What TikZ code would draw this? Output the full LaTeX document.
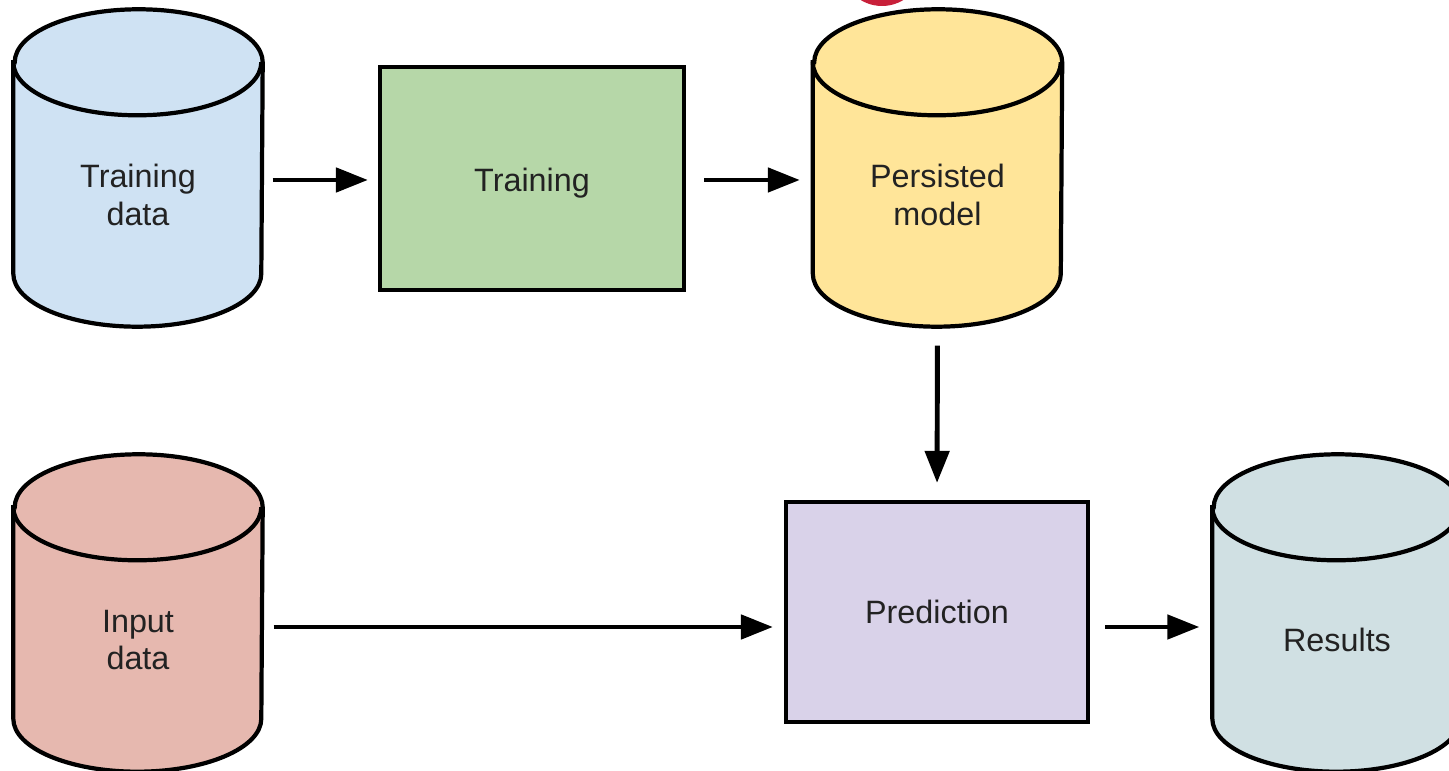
\documentclass[tikz,border=0pt]{standalone}
\usepackage{fontspec}
\setmainfont{Liberation Sans}
\usetikzlibrary{arrows.meta,calc}
\definecolor{storeblue}{HTML}{CFE2F3}
\definecolor{storeyellow}{HTML}{FFE599}
\definecolor{storered}{HTML}{E6B8AF}
\definecolor{storeteal}{HTML}{D0E0E3}
\definecolor{stepgreen}{HTML}{B6D7A8}
\definecolor{steppurple}{HTML}{D9D2E9}
\definecolor{badgered}{HTML}{C8203A}
\definecolor{textgray}{HTML}{222222}

\tikzset{
  labeltext/.style={font=\fontsize{9.2}{10.6}\selectfont,text=textgray,align=center},
  store/.style={minimum width=2.48cm,minimum height=3.16cm,inner sep=0pt},
  stepbox/.style={draw,line width=1.2pt,labeltext},
  flow/.style={line width=1.4pt,-{Triangle[length=3.2mm,width=2.4mm]}}
}
% cylinder outline round a store node
\newcommand{\drawstore}[2]{%
  \draw[line width=1.2pt,fill=#2]
    ([yshift=-5.3mm]#1.north west) -- ([yshift=5.3mm]#1.south west)
    arc[start angle=180,end angle=360,x radius=12.4mm,y radius=5.3mm]
    -- ([yshift=-5.3mm]#1.north east)
    arc[start angle=0,end angle=180,x radius=12.4mm,y radius=5.3mm] -- cycle;
  \draw[line width=1.2pt] ([yshift=-5.3mm]#1.north west)
    arc[start angle=180,end angle=360,x radius=12.4mm,y radius=5.3mm];
}

\begin{document}
\begin{tikzpicture}
\useasboundingbox (0,0) rectangle (14.49,7.71);
\clip (0,0) rectangle (14.49,7.71);
% badge cut off at the top
\fill[badgered] (8.82,8.06) circle (0.41);
% stores
\node[store] (tdata) at (1.38,6.03) {};
\node[store] (model) at (9.375,6.03) {};
\node[store] (idata) at (1.38,1.58) {};
\node[store] (results) at (13.37,1.58) {};
\drawstore{tdata}{storeblue}
\drawstore{model}{storeyellow}
\drawstore{idata}{storered}
\drawstore{results}{storeteal}
\node[labeltext] at ([yshift=-2.7mm]tdata.center) {Training\\data};
\node[labeltext] at ([yshift=-2.7mm]model.center) {Persisted\\model};
\node[labeltext] at ([yshift=-2.7mm]idata.center) {Input\\data};
\node[labeltext] at ([yshift=-2.7mm]results.center) {Results};
% steps
\node[stepbox,fill=stepgreen,minimum width=3.04cm,minimum height=2.23cm] (train) at (5.32,5.925) {\raisebox{-0.5mm}[\height][\depth]{Training}};
\node[stepbox,fill=steppurple,minimum width=3.02cm,minimum height=2.2cm] (predict) at (9.37,1.59) {Prediction};
% arrows
\draw[flow,shorten <=1mm,shorten >=1mm] ([yshift=-0.15mm]train.west -| tdata.east) -- ([yshift=-0.15mm]train.west);
\draw[flow,shorten <=1.8mm,shorten >=1.3mm] ([yshift=-0.15mm]train.east) -- ([yshift=-0.15mm]train.east -| model.west);
\draw[flow,shorten <=1.9mm,shorten >=1.7mm] (model.south) -- (predict.north);
\draw[flow,shorten <=1.1mm,shorten >=1.1mm] ([yshift=-1.5mm]predict.west -| idata.east) -- ([yshift=-1.5mm]predict.west);
\draw[flow,shorten <=1.5mm,shorten >=1.3mm] ([yshift=-1.5mm]predict.east) -- ([yshift=-1.5mm]predict.east -| results.west);
\end{tikzpicture}
\end{document}
